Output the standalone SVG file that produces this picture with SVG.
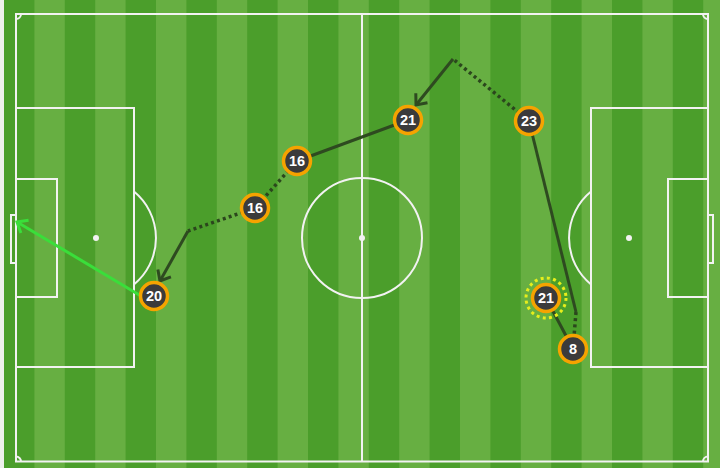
<svg xmlns="http://www.w3.org/2000/svg" width="720" height="468" viewBox="0 0 720 468">
<defs>
<style>
.dk{fill:#4b9e2b}
.lt{fill:#67af42}
.ln{fill:none;stroke:#f2f2f2;stroke-width:2}
.spot{fill:#f2f2f2}
.pass{fill:none;stroke:#2e4a20;stroke-width:3}
.carry{fill:none;stroke:#2b461d;stroke-width:3.5;stroke-dasharray:3 3.2}
.shot{fill:none;stroke:#3ade3a;stroke-width:3}
.node circle.b{fill:#3b3b3b;stroke:#f5a300;stroke-width:3.5}
.node text{fill:#ffffff;font-family:"Liberation Sans",Arial,sans-serif;font-size:14.5px;font-weight:bold;text-anchor:middle}
</style>
<marker id="ah" markerUnits="userSpaceOnUse" markerWidth="24" markerHeight="24" refX="0" refY="0" viewBox="-12 -12 24 24" orient="auto" overflow="visible">
<path d="M-9,-7.5 L0,0 L-9,7.5" fill="none" stroke="#2e4a20" stroke-width="3"/>
</marker>
<marker id="ahg" markerUnits="userSpaceOnUse" markerWidth="24" markerHeight="24" refX="0" refY="0" viewBox="-12 -12 24 24" orient="auto" overflow="visible">
<path d="M-9,-7.5 L0,0 L-9,7.5" fill="none" stroke="#3ade3a" stroke-width="3"/>
</marker>
</defs>

<g id="pitch">
<rect x="0" y="0" width="720" height="468" fill="#4b9e2b"/>
<rect x="0" y="0" width="4" height="468" fill="#eef0ec"/>
<rect class="lt" x="34.4" y="0" width="30.4" height="468"/>
<rect class="lt" x="95.2" y="0" width="30.4" height="468"/>
<rect class="lt" x="156" y="0" width="30.4" height="468"/>
<rect class="lt" x="216.8" y="0" width="30.4" height="468"/>
<rect class="lt" x="277.6" y="0" width="30.4" height="468"/>
<rect class="lt" x="338.4" y="0" width="30.4" height="468"/>
<rect class="lt" x="399.2" y="0" width="30.4" height="468"/>
<rect class="lt" x="460" y="0" width="30.4" height="468"/>
<rect class="lt" x="520.8" y="0" width="30.4" height="468"/>
<rect class="lt" x="581.6" y="0" width="30.4" height="468"/>
<rect class="lt" x="642.4" y="0" width="30.4" height="468"/>
<rect class="lt" x="703.2" y="0" width="30.4" height="468"/>

<rect class="ln" x="16" y="14" width="692" height="447.5"/>
<line class="ln" x1="362" y1="14" x2="362" y2="461.5"/>
<circle class="ln" cx="362" cy="238" r="60"/>
<circle class="spot" cx="362" cy="238" r="3"/>
<rect class="ln" x="16" y="108" width="118" height="259"/>
<rect class="ln" x="591" y="108" width="117" height="259"/>
<rect class="ln" x="16" y="179" width="41" height="118"/>
<rect class="ln" x="668" y="179" width="40" height="118"/>
<rect class="ln" x="11" y="215" width="5" height="48"/>
<rect class="ln" x="708" y="215" width="5" height="48"/>
<circle class="spot" cx="96" cy="238" r="3"/>
<circle class="spot" cx="629" cy="238" r="3"/>
<path class="ln" d="M134,191.6 A60,60 0 0 1 134,284.4"/>
<path class="ln" d="M591,191.6 A60,60 0 0 0 591,284.4"/>
<path class="ln" d="M16,19 A5,5 0 0 0 21,14"/>
<path class="ln" d="M703,14 A5,5 0 0 0 708,19"/>
<path class="ln" d="M16,456.5 A5,5 0 0 1 21,461.5"/>
<path class="ln" d="M703,461.5 A5,5 0 0 1 708,456.5"/>
</g>

<g id="connectors">
<line class="shot" x1="141" y1="296" x2="17" y2="222" marker-end="url(#ahg)"/>
<line class="pass" x1="188" y1="231" x2="160" y2="281" marker-end="url(#ah)"/>
<line class="carry" x1="255" y1="208" x2="188" y2="231"/>
<line class="carry" x1="297" y1="161" x2="255" y2="208"/>
<line class="pass" x1="408" y1="120" x2="297" y2="161"/>
<line class="pass" x1="453" y1="59" x2="416" y2="105" marker-end="url(#ah)"/>
<line class="carry" x1="529" y1="121" x2="453" y2="59"/>
<line class="pass" x1="529" y1="121" x2="576" y2="312"/>
<line class="carry" x1="576" y1="312" x2="573" y2="349"/>
<line class="pass" x1="546" y1="298" x2="573" y2="349"/>
</g>

<circle id="highlight" cx="546" cy="298" r="20" fill="none" stroke="#e6ee1c" stroke-width="3" stroke-dasharray="3 3.3"/>

<g id="n21a" class="node"><circle class="b" cx="408" cy="120" r="13.5"/><text x="408" y="125">21</text></g>
<g id="n23" class="node"><circle class="b" cx="529" cy="121" r="13.5"/><text x="529" y="126">23</text></g>
<g id="n16a" class="node"><circle class="b" cx="297" cy="161" r="13.5"/><text x="297" y="166">16</text></g>
<g id="n16b" class="node"><circle class="b" cx="255" cy="208" r="13.5"/><text x="255" y="213">16</text></g>
<g id="n20" class="node"><circle class="b" cx="154" cy="296" r="13.5"/><text x="154" y="301">20</text></g>
<g id="n21b" class="node"><circle class="b" cx="546" cy="298" r="13.5"/><text x="546" y="303">21</text></g>
<g id="n8" class="node"><circle class="b" cx="573" cy="349" r="13.5"/><text x="573" y="354">8</text></g>
</svg>
